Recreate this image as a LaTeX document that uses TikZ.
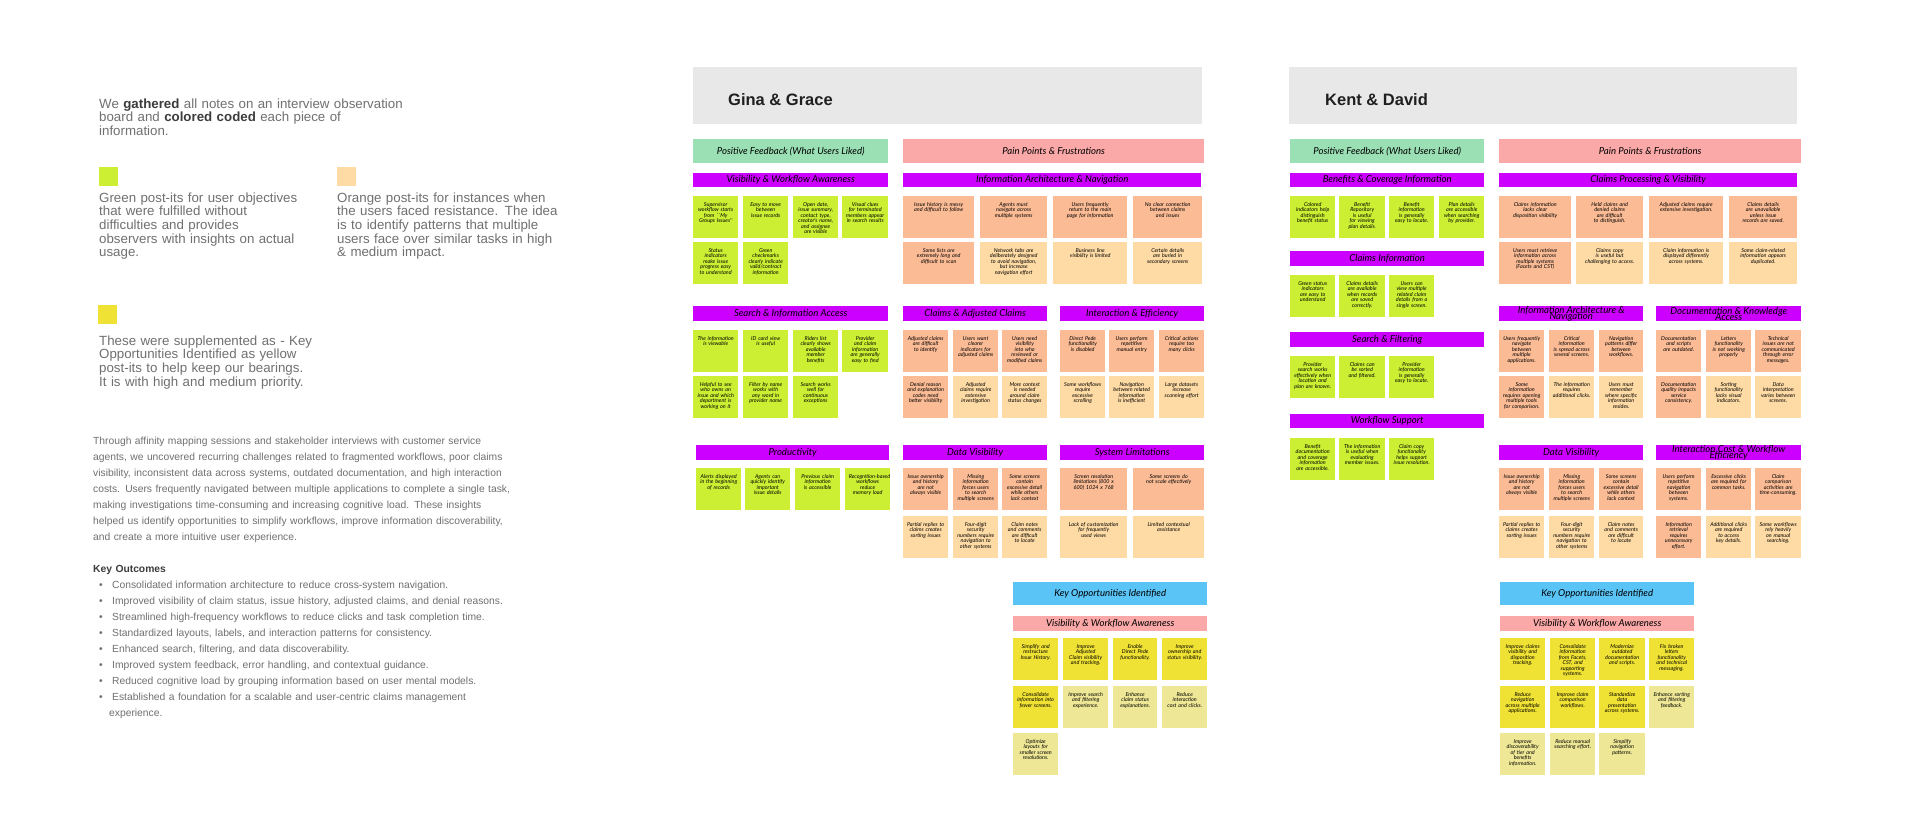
\documentclass[tikz,border=0pt]{standalone}
\usepackage{fontspec}
\setmainfont{Liberation Sans}
\newfontfamily\notefont{Lato}
\usepackage{xcolor}

\definecolor{notegreen}{RGB}{204,238,51}
\definecolor{notepeach}{RGB}{250,187,149}
\definecolor{noteapricot}{RGB}{254,218,164}
\definecolor{notelemon}{RGB}{240,226,52}
\definecolor{notepale}{RGB}{238,232,150}
\definecolor{barviolet}{RGB}{204,0,255}
\definecolor{headmint}{RGB}{154,224,180}
\definecolor{headrose}{RGB}{250,168,168}
\definecolor{headsky}{RGB}{90,196,246}
\definecolor{boardgray}{RGB}{232,232,232}
\definecolor{inkgray}{RGB}{112,112,112}
\definecolor{inkdark}{RGB}{60,60,60}

\newcommand{\tightlines}{\lineskiplimit=-50pt\relax\hyphenpenalty=10000\relax\exhyphenpenalty=10000\relax}

% sticky note: name, x, y, width, colour, text
\newcommand{\postit}[6]{%
  \node[postit, fill=#5, minimum width=#4pt] (#1) at (#2,#3) {};
  \pgfmathsetlengthmacro{\posttw}{0.55*#4pt+13pt}
  \node[posttext, text width=\posttw] at ([yshift=-6pt]#1.north) {#6};
}
% coloured heading strip: name, x, y, width, height, colour, label
\newcommand{\tagbar}[7]{%
  \node[tagbox, fill=#6, minimum width=#4pt, minimum height=#5pt] (#1) at (#2,#3) {};
  \node[tagtext] at (#1.center) {#7};
}

\begin{document}
\begin{tikzpicture}[x=1pt, y=-1pt,
  postit/.style={anchor=north west, minimum height=42pt, inner sep=0pt},
  posttext/.style={anchor=north, align=center, inner sep=0pt,
    font={\notefont\itshape\fontsize{5.4}{5.5}\selectfont\tightlines}},
  tagbox/.style={anchor=north west, inner sep=0pt},
  tagtext/.style={align=center, inner sep=0pt,
    font={\notefont\itshape\fontsize{9.6}{6}\selectfont\tightlines}},
  boardname/.style={anchor=base west, inner sep=0pt, text=black!88,
    font={\bfseries\fontsize{16.5}{18}\selectfont}},
  swatch/.style={anchor=north west, minimum size=19pt, inner sep=0pt},
  blurb/.style={anchor=base west, inner sep=0pt, align=left, text width=520pt,
    text=inkgray, font={\fontsize{13.3}{13.7}\selectfont}},
  smallblurb/.style={blurb, font={\fontsize{10.3}{16}\selectfont}},
]
\useasboundingbox[fill=white] (0,0) rectangle (1920,822);

% legend and summary
\node[blurb] (intro) at (99,108) {We \textcolor{inkdark}{\textbf{gathered}} all notes on an interview observation\\board and \textcolor{inkdark}{\textbf{colored coded}} each piece of\\information.};
\node[swatch, fill=notegreen] (keygreen) at (99,167) {};
\node[swatch, fill=noteapricot] (keyorange) at (337,167) {};
\node[swatch, fill=notelemon] (keyyellow) at (98,305) {};
\node[blurb] (greentext) at (99,202) {Green post-its for user objectives\\that were fulfilled without\\difficulties and provides\\observers with insights on actual\\usage.};
\node[blurb] (orangetext) at (337,202) {Orange post-its for instances when\\the users faced resistance. The idea\\is to identify patterns that multiple\\users face over similar tasks in high\\\& medium impact.};
\node[blurb] (yellowtext) at (99,345) {These were supplemented as - Key\\Opportunities Identified as yellow\\post-its to help keep our bearings.\\It is with high and medium priority.};
\node[smallblurb] (summary) at (93,444) {Through affinity mapping sessions and stakeholder interviews with customer service\\agents, we uncovered recurring challenges related to fragmented workflows, poor claims\\visibility, inconsistent data across systems, outdated documentation, and high interaction\\costs. Users frequently navigated between multiple applications to complete a single task,\\making investigations time-consuming and increasing cognitive load. These insights\\helped us identify opportunities to simplify workflows, improve information discoverability,\\and create a more intuitive user experience.};
\node[smallblurb] (outcomes) at (93,572) {\textcolor{inkdark}{\textbf{Key Outcomes}}};
\node[smallblurb] (outcomelist) at (99,588) {%
\makebox[13pt][l]{\textbullet}Consolidated information architecture to reduce cross-system navigation.\\
\makebox[13pt][l]{\textbullet}Improved visibility of claim status, issue history, adjusted claims, and denial reasons.\\
\makebox[13pt][l]{\textbullet}Streamlined high-frequency workflows to reduce clicks and task completion time.\\
\makebox[13pt][l]{\textbullet}Standardized layouts, labels, and interaction patterns for consistency.\\
\makebox[13pt][l]{\textbullet}Enhanced search, filtering, and data discoverability.\\
\makebox[13pt][l]{\textbullet}Improved system feedback, error handling, and contextual guidance.\\
\makebox[13pt][l]{\textbullet}Reduced cognitive load by grouping information based on user mental models.\\
\makebox[13pt][l]{\textbullet}Established a foundation for a scalable and user-centric claims management\\
\hspace*{10pt}experience.};

% Gina & Grace board
\node[tagbox, fill=boardgray, minimum width=509pt, minimum height=57pt] (ggboard) at (693,67) {};
\node[boardname] (ggname) at (728,105) {Gina \& Grace};
\tagbar{ggpos}{693}{139}{195}{24}{headmint}{Positive Feedback (What Users Liked)}
\tagbar{ggpain}{903}{139}{301}{24}{headrose}{Pain Points \& Frustrations}

\tagbar{ggvis}{693}{173}{195}{14}{barviolet}{Visibility \& Workflow Awareness}
\postit{ggv1}{693}{196}{45}{notegreen}{Supervisor workflow starts from ``My Groups Issues''}
\postit{ggv2}{743}{196}{45}{notegreen}{Easy to move between issue records}
\postit{ggv3}{793}{196}{45}{notegreen}{Open date, issue summary, contact type, creator's name, and assignee are visible}
\postit{ggv4}{842}{196}{46}{notegreen}{Visual clues for terminated members appear in search results}
\postit{ggv5}{693}{242}{45}{notegreen}{Status indicators make issue progress easy to understand}
\postit{ggv6}{743}{242}{45}{notegreen}{Green checkmarks clearly indicate valid/contract information}

\tagbar{ggia}{903}{173}{298}{14}{barviolet}{Information Architecture \& Navigation}
\postit{gga1}{903}{196}{71}{notepeach}{Issue history is messy and difficult to follow}
\postit{gga2}{980}{196}{67}{notepeach}{Agents must navigate across multiple systems}
\postit{gga3}{1053}{196}{74}{notepeach}{Users frequently return to the main page for information}
\postit{gga4}{1133}{196}{69}{notepeach}{No clear connection between claims and issues}
\postit{gga5}{903}{242}{71}{notepeach}{Some lists are extremely long and difficult to scan}
\postit{gga6}{980}{242}{67}{noteapricot}{Network tabs are deliberately designed to avoid navigation, but increase navigation effort}
\postit{gga7}{1053}{242}{74}{noteapricot}{Business line visibility is limited}
\postit{gga8}{1133}{242}{69}{noteapricot}{Certain details are buried in secondary screens}

\tagbar{ggsrch}{693}{306}{195}{15}{barviolet}{Search \& Information Access}
\postit{ggs1}{693}{330}{45}{notegreen}{The information is viewable}
\postit{ggs2}{743}{330}{45}{notegreen}{ID card view is useful}
\postit{ggs3}{793}{330}{45}{notegreen}{Riders list clearly shows available member benefits}
\postit{ggs4}{842}{330}{46}{notegreen}{Provider and claim information are generally easy to find}
\postit{ggs5}{693}{376}{45}{notegreen}{Helpful to see who owns an issue and which department is working on it}
\postit{ggs6}{743}{376}{45}{notegreen}{Filter by name works with any word in provider name}
\postit{ggs7}{793}{376}{45}{notegreen}{Search works well for continuous exceptions}

\tagbar{ggclm}{903}{306}{144}{15}{barviolet}{Claims \& Adjusted Claims}
\postit{ggc1}{903}{330}{45}{notepeach}{Adjusted claims are difficult to identify}
\postit{ggc2}{953}{330}{45}{notepeach}{Users want clearer indicators for adjusted claims}
\postit{ggc3}{1002}{330}{45}{notepeach}{Users need visibility into who reviewed or modified claims}
\postit{ggc4}{903}{376}{45}{notepeach}{Denial reason and explanation codes need better visibility}
\postit{ggc5}{953}{376}{45}{noteapricot}{Adjusted claims require extensive investigation}
\postit{ggc6}{1002}{376}{45}{noteapricot}{More context is needed around claim status changes}

\tagbar{ggint}{1060}{306}{144}{15}{barviolet}{Interaction \& Efficiency}
\postit{ggi1}{1060}{330}{45}{notepeach}{Direct Pede functionality is disabled}
\postit{ggi2}{1109}{330}{45}{notepeach}{Users perform repetitive manual entry}
\postit{ggi3}{1159}{330}{45}{notepeach}{Critical actions require too many clicks}
\postit{ggi4}{1060}{376}{45}{noteapricot}{Some workflows require excessive scrolling}
\postit{ggi5}{1109}{376}{45}{noteapricot}{Navigation between related information is inefficient}
\postit{ggi6}{1159}{376}{45}{noteapricot}{Large datasets increase scanning effort}

\tagbar{ggprod}{696}{445}{193}{15}{barviolet}{Productivity}
\postit{ggp1}{696}{468}{45}{notegreen}{Alerts displayed in the beginning of records}
\postit{ggp2}{745}{468}{45}{notegreen}{Agents can quickly identify important issue details}
\postit{ggp3}{795}{468}{45}{notegreen}{Previous claim information is accessible}
\postit{ggp4}{845}{468}{45}{notegreen}{Recognition-based workflows reduce memory load}

\tagbar{ggdata}{903}{445}{144}{15}{barviolet}{Data Visibility}
\postit{ggd1}{903}{468}{45}{notepeach}{Issue ownership and history are not always visible}
\postit{ggd2}{953}{468}{45}{notepeach}{Missing information forces users to search multiple screens}
\postit{ggd3}{1002}{468}{45}{notepeach}{Some screens contain excessive detail while others lack context}
\postit{ggd4}{903}{516}{45}{noteapricot}{Partial replies to claims creates sorting issues}
\postit{ggd5}{953}{516}{45}{noteapricot}{Four-digit security numbers require navigation to other systems}
\postit{ggd6}{1002}{516}{45}{noteapricot}{Claim notes and comments are difficult to locate}

\tagbar{ggsys}{1060}{445}{144}{15}{barviolet}{System Limitations}
\postit{ggl1}{1060}{468}{67}{notepeach}{Screen resolution limitations (800 x 600) 1024 x 768}
\postit{ggl2}{1133}{468}{71}{notepeach}{Some screens do not scale effectively}
\postit{ggl3}{1060}{516}{67}{noteapricot}{Lack of customization for frequently used views}
\postit{ggl4}{1133}{516}{71}{noteapricot}{Limited contextual assistance}

\tagbar{ggkey}{1013}{582}{194}{23}{headsky}{Key Opportunities Identified}
\tagbar{ggkvis}{1013}{616}{194}{15}{headrose}{Visibility \& Workflow Awareness}
\postit{ggk1}{1013}{638}{45}{notelemon}{Simplify and restructure Issue History.}
\postit{ggk2}{1063}{638}{45}{notelemon}{Improve Adjusted Claim visibility and tracking.}
\postit{ggk3}{1113}{638}{44}{notelemon}{Enable Direct Pede functionality.}
\postit{ggk4}{1162}{638}{45}{notelemon}{Improve ownership and status visibility.}
\postit{ggk5}{1013}{686}{45}{notelemon}{Consolidate information into fewer screens.}
\postit{ggk6}{1063}{686}{45}{notepale}{Improve search and filtering experience.}
\postit{ggk7}{1113}{686}{44}{notepale}{Enhance claim status explanations.}
\postit{ggk8}{1162}{686}{45}{notepale}{Reduce interaction cost and clicks.}
\postit{ggk9}{1013}{733}{45}{notepale}{Optimize layouts for smaller screen resolutions.}

% Kent & David board
\node[tagbox, fill=boardgray, minimum width=508pt, minimum height=57pt] (kdboard) at (1289,67) {};
\node[boardname] (kdname) at (1325,105) {Kent \& David};
\tagbar{kdpos}{1290}{139}{194}{24}{headmint}{Positive Feedback (What Users Liked)}
\tagbar{kdpain}{1499}{139}{302}{24}{headrose}{Pain Points \& Frustrations}

\tagbar{kdben}{1290}{173}{194}{14}{barviolet}{Benefits \& Coverage Information}
\postit{kdb1}{1290}{196}{45}{notegreen}{Colored indicators help distinguish benefit status}
\postit{kdb2}{1339}{196}{46}{notegreen}{Benefit Repository is useful for viewing plan details.}
\postit{kdb3}{1389}{196}{45}{notegreen}{Benefit information is generally easy to locate.}
\postit{kdb4}{1439}{196}{45}{notegreen}{Plan details are accessible when searching by provider.}

\tagbar{kdclm}{1290}{251}{194}{15}{barviolet}{Claims Information}
\postit{kdc1}{1290}{275}{45}{notegreen}{Green status indicators are easy to understand}
\postit{kdc2}{1339}{275}{46}{notegreen}{Claims details are available when records are saved correctly.}
\postit{kdc3}{1389}{275}{45}{notegreen}{Users can view multiple related claim details from a single screen.}

\tagbar{kdsrch}{1290}{332}{194}{15}{barviolet}{Search \& Filtering}
\postit{kds1}{1290}{356}{45}{notegreen}{Provider search works effectively when location and plan are known.}
\postit{kds2}{1339}{356}{46}{notegreen}{Claims can be sorted and filtered.}
\postit{kds3}{1389}{356}{45}{notegreen}{Provider information is generally easy to locate.}

\tagbar{kdwf}{1290}{414}{194}{14}{barviolet}{Workflow Support}
\postit{kdw1}{1290}{438}{45}{notegreen}{Benefit documentation and coverage information are accessible.}
\postit{kdw2}{1339}{438}{46}{notegreen}{The information is useful when evaluating member issues.}
\postit{kdw3}{1389}{438}{45}{notegreen}{Claim copy functionality helps support issue resolution.}

\tagbar{kdcpv}{1499}{173}{298}{14}{barviolet}{Claims Processing \& Visibility}
\postit{kdp1}{1499}{196}{72}{notepeach}{Claims information lacks clear disposition visibility}
\postit{kdp2}{1576}{196}{67}{notepeach}{Held claims and denied claims are difficult to distinguish.}
\postit{kdp3}{1649}{196}{74}{notepeach}{Adjusted claims require extensive investigation.}
\postit{kdp4}{1729}{196}{68}{notepeach}{Claims details are unavailable unless issue records are saved.}
\postit{kdp5}{1499}{242}{72}{notepeach}{Users must retrieve information across multiple systems (Facets and CST)}
\postit{kdp6}{1576}{242}{67}{noteapricot}{Claims copy is useful but challenging to access.}
\postit{kdp7}{1649}{242}{74}{noteapricot}{Claim information is displayed differently across systems.}
\postit{kdp8}{1729}{242}{68}{noteapricot}{Some claim-related information appears duplicated.}

\tagbar{kdia}{1499}{306}{144}{15}{barviolet}{Information Architecture \&\\ Navigation}
\postit{kda1}{1499}{330}{45}{notepeach}{Users frequently navigate between multiple applications.}
\postit{kda2}{1549}{330}{45}{notepeach}{Critical information is spread across several screens.}
\postit{kda3}{1599}{330}{44}{notepeach}{Navigation patterns differ between workflows.}
\postit{kda4}{1499}{376}{45}{notepeach}{Some information requires opening multiple tools for comparison.}
\postit{kda5}{1549}{376}{45}{noteapricot}{The information requires additional clicks.}
\postit{kda6}{1599}{376}{44}{noteapricot}{Users must remember where specific information resides.}

\tagbar{kddoc}{1656}{306}{145}{15}{barviolet}{Documentation \& Knowledge\\ Access}
\postit{kdk1}{1656}{330}{45}{notepeach}{Documentation and scripts are outdated.}
\postit{kdk2}{1706}{330}{45}{notepeach}{Letters functionality is not working properly}
\postit{kdk3}{1755}{330}{46}{notepeach}{Technical issues are not communicated through error messages.}
\postit{kdk4}{1656}{376}{45}{notepeach}{Documentation quality impacts service consistency.}
\postit{kdk5}{1706}{376}{45}{noteapricot}{Sorting functionality lacks visual indicators.}
\postit{kdk6}{1755}{376}{46}{noteapricot}{Data interpretation varies between screens.}

\tagbar{kddata}{1499}{445}{144}{15}{barviolet}{Data Visibility}
\postit{kdd1}{1499}{468}{45}{notepeach}{Issue ownership and history are not always visible}
\postit{kdd2}{1549}{468}{45}{notepeach}{Missing information forces users to search multiple screens}
\postit{kdd3}{1599}{468}{44}{notepeach}{Some screens contain excessive detail while others lack context}
\postit{kdd4}{1499}{516}{45}{noteapricot}{Partial replies to claims creates sorting issues}
\postit{kdd5}{1549}{516}{45}{noteapricot}{Four-digit security numbers require navigation to other systems}
\postit{kdd6}{1599}{516}{44}{noteapricot}{Claim notes and comments are difficult to locate}

\tagbar{kdcost}{1656}{445}{145}{15}{barviolet}{Interaction Cost \& Workflow\\ Efficiency}
\postit{kdi1}{1656}{468}{45}{notepeach}{Users perform repetitive navigation between systems.}
\postit{kdi2}{1706}{468}{45}{notepeach}{Excessive clicks are required for common tasks.}
\postit{kdi3}{1755}{468}{46}{notepeach}{Claim comparison activities are time-consuming.}
\postit{kdi4}{1656}{516}{45}{notepeach}{Information retrieval requires unnecessary effort.}
\postit{kdi5}{1706}{516}{45}{noteapricot}{Additional clicks are required to access key details.}
\postit{kdi6}{1755}{516}{46}{noteapricot}{Some workflows rely heavily on manual searching.}

\tagbar{kdkey}{1500}{582}{194}{23}{headsky}{Key Opportunities Identified}
\tagbar{kdkvis}{1500}{616}{194}{15}{headrose}{Visibility \& Workflow Awareness}
\postit{kdo1}{1500}{638}{45}{notelemon}{Improve claims visibility and disposition tracking.}
\postit{kdo2}{1550}{638}{45}{notelemon}{Consolidate information from Facets, CST, and supporting systems.}
\postit{kdo3}{1599}{638}{46}{notelemon}{Modernize outdated documentation and scripts.}
\postit{kdo4}{1649}{638}{45}{notelemon}{Fix broken letters functionality and technical messaging.}
\postit{kdo5}{1500}{686}{45}{notelemon}{Reduce navigation across multiple applications.}
\postit{kdo6}{1550}{686}{45}{notelemon}{Improve claim comparison workflows.}
\postit{kdo7}{1599}{686}{46}{notelemon}{Standardize data presentation across systems.}
\postit{kdo8}{1649}{686}{45}{notepale}{Enhance sorting and filtering feedback.}
\postit{kdo9}{1500}{733}{45}{notepale}{Improve discoverability of tier and benefits information.}
\postit{kdo10}{1550}{733}{45}{notepale}{Reduce manual searching effort.}
\postit{kdo11}{1599}{733}{46}{notepale}{Simplify navigation patterns.}
\end{tikzpicture}
\end{document}
